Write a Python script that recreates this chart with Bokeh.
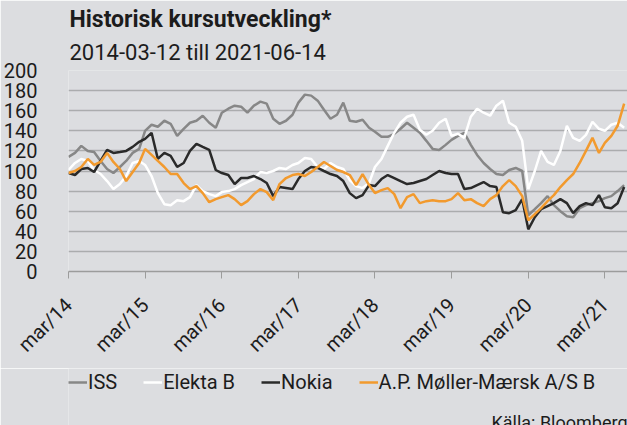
from datetime import datetime
from math import pi
from bokeh.plotting import figure
from bokeh.layouts import column
from bokeh.models import Range1d, FixedTicker, Legend, LegendItem, Title, Label
from bokeh.embed import file_html
from bokeh.resources import INLINE

# ---- data (monthly) ----
n_months = 88
dates = [datetime(2014 + (2 + i) // 12, (2 + i) % 12 + 1, 12) for i in range(n_months)]

iss = [114, 118, 125, 120, 119, 110, 102, 98, 104, 110, 118, 122,
       140, 146, 144, 150, 147, 135, 142, 148, 150, 155, 148, 143,
       158, 162, 165, 164, 158, 165, 169, 167, 152, 147, 150, 156,
       168, 176, 175, 170, 161, 152, 156, 168, 150, 149, 151, 143,
       139, 134, 134, 137, 142, 148, 143, 138, 130, 122, 121, 126,
       131, 135, 138, 126, 116, 108, 102, 97, 96, 101, 103, 100,
       56, 62, 68, 75, 66, 60, 55, 54, 63, 66, 68, 70,
       73, 75, 80, 86]

elekta = [101, 108, 112, 110, 101, 97, 90, 82, 87, 95, 108, 110,
          106, 95, 78, 67, 66, 71, 70, 74, 86, 80, 77, 75,
          79, 80, 82, 86, 89, 92, 99, 98, 100, 103, 102, 106,
          108, 113, 112, 104, 102, 108, 104, 102, 91, 85, 83, 88,
          104, 112, 125, 138, 148, 154, 156, 141, 136, 140, 148, 152,
          135, 137, 133, 154, 162, 158, 155, 165, 170, 148, 144, 130,
          82, 100, 120, 109, 106, 120, 145, 133, 130, 136, 149, 142,
          140, 146, 148, 143]

nokia = [98, 96, 102, 103, 99, 110, 121, 118, 119, 120, 124, 129,
         132, 138, 112, 118, 115, 104, 108, 120, 127, 124, 121, 101,
         98, 96, 87, 93, 93, 95, 92, 88, 75, 84, 83, 82,
         92, 100, 104, 103, 100, 97, 95, 90, 78, 73, 76, 86,
         85, 92, 96, 93, 90, 87, 88, 90, 92, 96, 100, 98,
         97, 97, 82, 83, 86, 89, 85, 84, 59, 58, 61, 72,
         42, 54, 62, 65, 68, 72, 68, 58, 65, 68, 66, 76,
         64, 63, 68, 84]

maersk = [98, 100, 104, 112, 106, 109, 118, 109, 102, 90, 99, 108,
          122, 116, 110, 104, 97, 97, 88, 82, 85, 78, 69, 72,
          74, 76, 72, 66, 70, 77, 82, 79, 71, 87, 93, 96,
          97, 95, 99, 104, 109, 105, 101, 99, 96, 86, 97, 86,
          78, 81, 83, 77, 63, 74, 77, 68, 70, 71, 70, 70,
          72, 78, 71, 72, 68, 65, 72, 76, 85, 91, 85, 75,
          51, 57, 63, 70, 76, 84, 91, 97, 108, 120, 133, 118,
          128, 135, 145, 167]

tick_dates = [datetime(y, 3, 12) for y in range(2014, 2022)]
tick_labels = ["mar/14", "mar/15", "mar/16", "mar/17",
               "mar/18", "mar/19", "mar/20", "mar/21"]
y_ticks = [0, 20, 40, 60, 80, 100, 120, 140, 160, 180, 200]

series_names = ["ISS", "Elekta B", "Nokia", "A.P. Møller-Mærsk A/S B"]
title_text = "Historisk kursutveckling*"
subtitle_text = "2014-03-12 till 2021-06-14"
source_text = "Källa: Bloomberg"

# ---- styling ----
BG = "#dcdde0"
GRID = "#abacae"
TXT = "#1c1c1c"
FONT = "Roboto"
colors = ["#878787", "#ffffff", "#2a2a2a", "#f29a2e"]

EPOCH = datetime(1970, 1, 1)


def to_ms(d):
    return (d - EPOCH).total_seconds() * 1000.0


xs = [to_ms(d) for d in dates]
tick_ms = [to_ms(d) for d in tick_dates]
all_series = [iss, elekta, nokia, maersk]

W = 627
H_MAIN = 368
H_LEG = 425 - H_MAIN
LEFT = 67

p = figure(width=W, height=H_MAIN, output_backend="svg", toolbar_location=None,
           title=None,
           x_range=Range1d(to_ms(datetime(2014, 3, 12)), to_ms(datetime(2021, 6, 28))),
           y_range=Range1d(0, 200),
           min_border_left=LEFT, min_border_right=0, min_border_top=70,
           min_border_bottom=H_MAIN - 273,
           background_fill_color=BG, border_fill_color=BG,
           outline_line_color=None)

# x axis
p.xaxis.ticker = FixedTicker(ticks=tick_ms)
p.xaxis.major_label_overrides = {t: lab for t, lab in zip(tick_ms, tick_labels)}
p.xaxis.major_label_orientation = pi / 4
p.xaxis.axis_line_color = "#9c9c9c"
p.xaxis.axis_line_width = 1.5
p.xaxis.major_tick_line_color = "#9c9c9c"
p.xaxis.major_tick_line_width = 1
p.xaxis.major_tick_out = 7
p.xaxis.major_tick_in = 0
p.xaxis.minor_tick_line_color = None
p.xaxis.major_label_text_font = FONT
p.xaxis.major_label_text_font_size = "20px"
p.xaxis.major_label_text_color = TXT
p.xaxis.major_label_standoff = 23

# y axis
p.yaxis.ticker = FixedTicker(ticks=y_ticks)
p.yaxis.axis_line_color = None
p.yaxis.major_tick_line_color = None
p.yaxis.minor_tick_line_color = None
p.yaxis.major_label_standoff = 25
p.yaxis.major_label_text_font = FONT
p.yaxis.major_label_text_font_size = "20px"
p.yaxis.major_label_text_color = TXT

p.xgrid.grid_line_color = None
p.ygrid.ticker = FixedTicker(ticks=y_ticks)
p.ygrid.grid_line_color = GRID
p.ygrid.grid_line_width = 1.5

for vals, col in zip(all_series, colors):
    p.line(xs, vals, line_color=col, line_width=2.5)

# titles (first added sits closest to the plot frame)
p.add_layout(Title(text=subtitle_text, text_font=FONT, text_font_size="22px",
                   text_font_style="normal", text_color=TXT, align="left",
                   offset=1, standoff=11), "above")
p.add_layout(Title(text=title_text, text_font=FONT, text_font_size="23px",
                   text_font_style="bold", text_color=TXT, align="left",
                   offset=1, standoff=0), "above")

# ---- legend + source strip (its frame is aligned with the chart's frame) ----
q = figure(width=W, height=H_LEG, output_backend="svg", toolbar_location=None,
           title=None, x_axis_location=None, y_axis_location=None,
           x_range=Range1d(0, W - LEFT), y_range=Range1d(0, H_LEG),
           min_border_left=LEFT, min_border_right=0, min_border_top=0,
           min_border_bottom=0,
           background_fill_color=BG, border_fill_color=BG,
           outline_line_color=None)
q.xgrid.visible = False
q.ygrid.visible = False

# one-point lines: nothing is drawn, they only supply the legend swatches
leg_renderers = [q.line(xs[:1], vals[:1], line_color=col, line_width=2.5)
                 for vals, col in zip(all_series, colors)]

legend = Legend(items=[LegendItem(label=nm, renderers=[r]) for nm, r in zip(series_names, leg_renderers)],
                orientation="horizontal", location=(0, H_LEG - 16 - 10),
                padding=0, margin=0, spacing=26,
                glyph_width=19, glyph_height=20, label_height=20,
                label_standoff=1, label_text_font=FONT,
                label_text_font_size="20px", label_text_color=TXT,
                background_fill_alpha=0, border_line_color=None)
q.add_layout(legend)

q.add_layout(Label(x=W - LEFT - 1, y=3, x_units="screen", y_units="screen",
                   text=source_text, text_font=FONT, text_font_size="18px",
                   text_color=TXT, text_align="right",
                   text_baseline="alphabetic"))

open("out.html", "w").write(file_html(column(p, q, spacing=0), INLINE))
